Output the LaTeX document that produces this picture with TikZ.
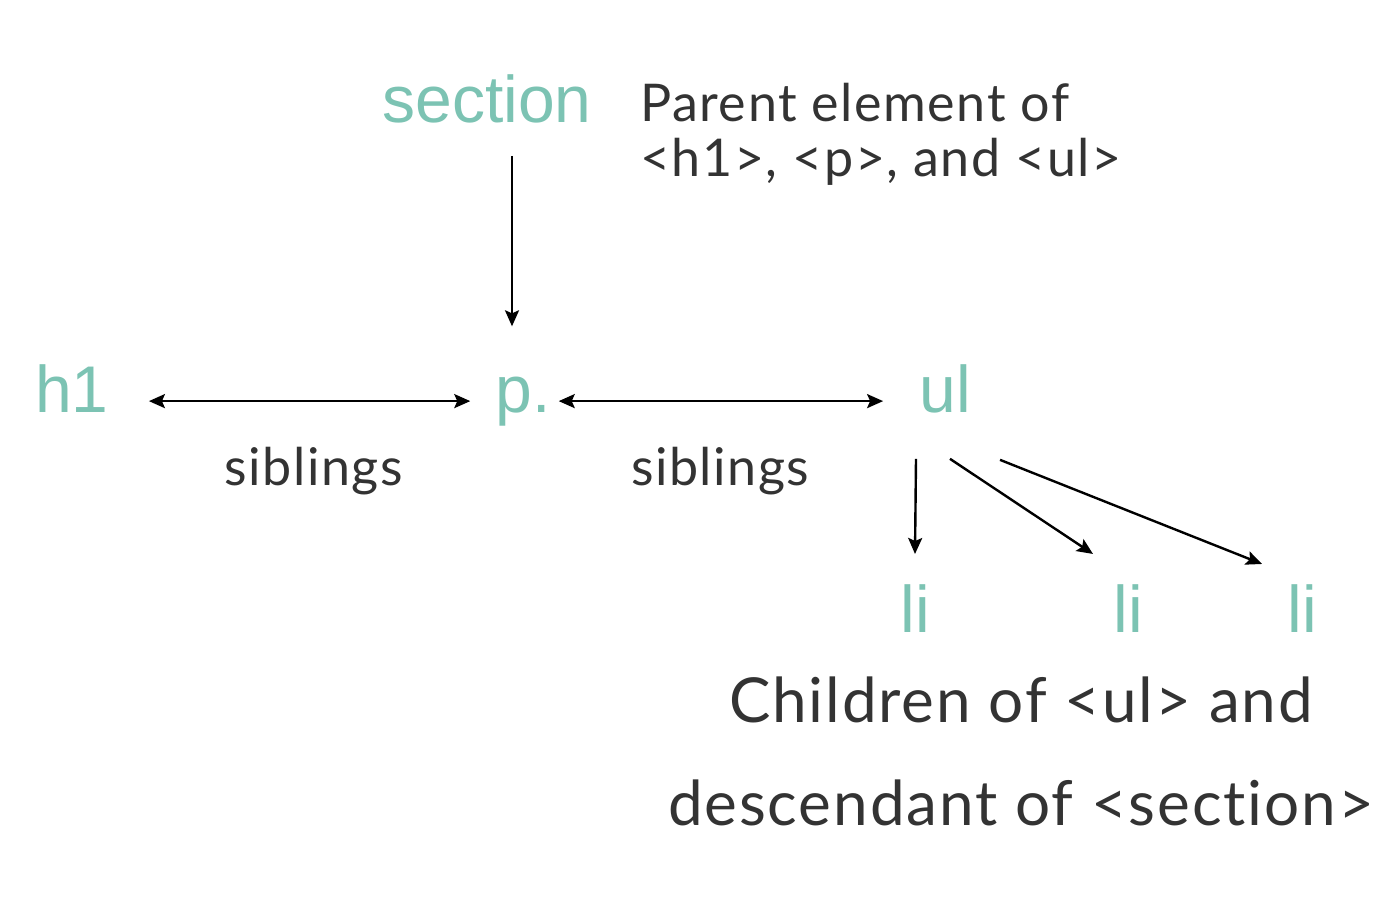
\documentclass[tikz,border=0pt]{standalone}
\usepackage{fontspec}
\setmainfont{Lato}[LetterSpace=3, Ligatures={NoCommon}]
\newfontfamily\tagfont{Liberation Sans}
\usetikzlibrary{arrows.meta}
\definecolor{tagteal}{HTML}{7CC3B3}
\definecolor{notegray}{HTML}{333333}

\begin{document}
\begin{tikzpicture}[x=1pt, y=-1pt,
    tag/.style={text=tagteal, font=\tagfont\fontsize{66}{66}\selectfont, inner sep=0pt, anchor=base},
    note/.style={text=notegray, font=\fontsize{52}{55}\selectfont, inner sep=0pt},
    arr/.style={-{Stealth[length=16pt, width=14pt, inset=3pt]}, line width=2.4pt},
    both/.style={{Stealth[length=16pt, width=14pt, inset=3pt]}-{Stealth[length=16pt, width=14pt, inset=3pt]}, line width=2.4pt}]
    \useasboundingbox[fill=white] (0,0) rectangle (1400,902);

    \node[tag] (section) at (487, 122) {section};
    \node[tag] (h1) at (72, 412) {h1};
    \node[tag] (p) at (523, 412) {p.};
    \node[tag] (ul) at (945, 412) {ul};
    \node[tag] (li1) at (915, 632) {li};
    \node[tag] (li2) at (1128, 632) {li};
    \node[tag] (li3) at (1302, 632) {li};

    \node[note, anchor=north west, align=left] (parent) at (640, 83) {Parent element of\\<h1>, <p>, and <ul>};
    \node[note, font=\fontsize{62}{103}\selectfont, anchor=north, align=center] (kids) at (1021, 677) {Children of <ul> and\\descendant of <section>};

    \draw[arr]([xshift=25, yshift=-33]section.south)--([xshift=-11, yshift=50]p.north);
    \draw[both, shorten <=40pt, shorten >=25pt](h1.east |- p.west)--node[note, pos=.53, below=45pt]{siblings}(p.west);
    \draw[both, shorten <=8pt, shorten >=36pt](p.east)--node[note, pos=.46, below=45pt]{siblings}(p.east -| ul.west);
    \draw[arr]([xshift=-29, yshift=-46]ul.south)--([yshift=30]li1.north);
    \draw[arr]([xshift=5, yshift=-46]ul.south)--([xshift=-35, yshift=30]li2.north);
    \draw[arr]([xshift=55, yshift=-47]ul.south)--([xshift=-40, yshift=20]li3.north);
\end{tikzpicture}
\end{document}
